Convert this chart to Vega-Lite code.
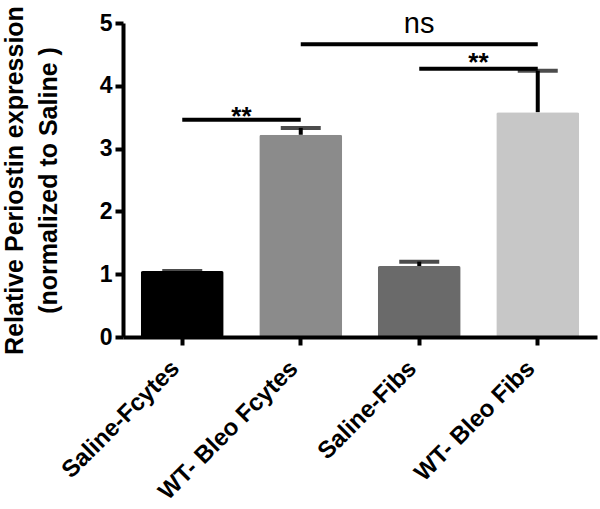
{
  "$schema": "https://vega.github.io/schema/vega-lite/v6.json",
  "width": 474,
  "height": 314,
  "autosize": "none",
  "padding": {"left": 123, "top": 23, "right": 3, "bottom": 172},
  "background": "white",
  "config": {
    "view": {"stroke": null},
    "font": "Liberation Sans",
    "axis": {
      "domainColor": "black",
      "domainWidth": 4,
      "tickColor": "black",
      "tickWidth": 4,
      "tickSize": 8,
      "labelColor": "black",
      "labelFont": "Liberation Sans",
      "labelFontWeight": "bold",
      "labelFontSize": 23,
      "titleColor": "black",
      "titleFont": "Liberation Sans",
      "titleFontWeight": "bold",
      "grid": false
    }
  },
  "datasets": {
    "bars": [
      {"group": "Saline-Fcytes", "mean": 1.05, "upper": 1.05},
      {"group": "WT- Bleo Fcytes", "mean": 3.22, "upper": 3.33},
      {"group": "Saline-Fibs", "mean": 1.13, "upper": 1.2},
      {"group": "WT- Bleo Fibs", "mean": 3.58, "upper": 4.24}
    ],
    "sig": [
      {"from": "Saline-Fcytes", "to": "WT- Bleo Fcytes", "y": 3.46, "label": "**", "ly": 3.38},
      {"from": "WT- Bleo Fcytes", "to": "WT- Bleo Fibs", "y": 4.66, "label": "ns", "ly": 4.84},
      {"from": "Saline-Fibs", "to": "WT- Bleo Fibs", "y": 4.27, "label": "**", "ly": 4.23}
    ]
  },
  "layer": [
    {
      "data": {"name": "bars"},
      "mark": {"type": "bar", "cornerRadius": 2},
      "encoding": {
        "x": {
          "field": "group",
          "type": "nominal",
          "sort": null,
          "scale": {
            "domain": ["Saline-Fcytes", "WT- Bleo Fcytes", "Saline-Fibs", "WT- Bleo Fibs"],
            "paddingInner": 0.3,
            "paddingOuter": 0.15
          },
          "axis": {"title": null, "labelAngle": -45, "labelPadding": 11, "labelOffset": -15, "labelFontSize": 24, "labelFontWeight": "bold", "labelLimit": 400, "zindex": 1}
        },
        "y": {
          "field": "mean",
          "type": "quantitative",
          "scale": {"domain": [0, 5], "nice": false},
          "axis": {
            "title": ["Relative Periostin expression", "(normalized to Saline )"],
            "titleFontSize": 25,
            "titleLineHeight": 34,
            "titlePadding": 38,
            "titleLimit": 420,
            "values": [0, 1, 2, 3, 4, 5],
            "format": "d",
            "labelFontSize": 23,
            "labelFontWeight": "bold",
            "labelPadding": 3,
            "zindex": 1
          }
        },
        "color": {
          "field": "group",
          "type": "nominal",
          "sort": null,
          "scale": {
            "domain": ["Saline-Fcytes", "WT- Bleo Fcytes", "Saline-Fibs", "WT- Bleo Fibs"],
            "range": ["#000000", "#8b8b8b", "#6a6a6a", "#c7c7c7"]
          },
          "legend": null
        }
      }
    },
    {
      "data": {"name": "bars"},
      "mark": {"type": "rule", "color": "black", "strokeWidth": 4},
      "encoding": {
        "x": {"field": "group", "type": "nominal", "sort": null},
        "y": {"field": "mean", "type": "quantitative"},
        "y2": {"field": "upper"}
      }
    },
    {
      "data": {"name": "bars"},
      "mark": {"type": "tick", "color": "black", "size": 40, "thickness": 4, "orient": "horizontal"},
      "encoding": {
        "x": {"field": "group", "type": "nominal", "sort": null},
        "y": {"field": "upper", "type": "quantitative"}
      }
    },
    {
      "data": {"name": "sig"},
      "mark": {"type": "rule", "color": "black", "strokeWidth": 4},
      "encoding": {
        "x": {"field": "from", "type": "nominal", "sort": null, "bandPosition": 0.5},
        "x2": {"field": "to", "bandPosition": 0.5},
        "y": {"field": "y", "type": "quantitative"}
      }
    },
    {
      "data": {"name": "sig"},
      "transform": [{"filter": "datum.label === '**'"}],
      "mark": {"type": "text", "color": "black", "fontSize": 26, "fontWeight": "bold", "baseline": "alphabetic", "align": "center", "font": "Liberation Sans"},
      "encoding": {
        "x": {"field": "from", "type": "nominal", "sort": null, "bandPosition": 1.214},
        "y": {"field": "ly", "type": "quantitative"},
        "text": {"field": "label"}
      }
    },
    {
      "data": {"name": "sig"},
      "transform": [{"filter": "datum.label === 'ns'"}],
      "mark": {"type": "text", "color": "black", "fontSize": 29, "baseline": "alphabetic", "align": "center", "font": "Liberation Sans"},
      "encoding": {
        "x": {"field": "to", "type": "nominal", "sort": null, "bandPosition": -0.93},
        "y": {"field": "ly", "type": "quantitative"},
        "text": {"field": "label"}
      }
    }
  ]
}
